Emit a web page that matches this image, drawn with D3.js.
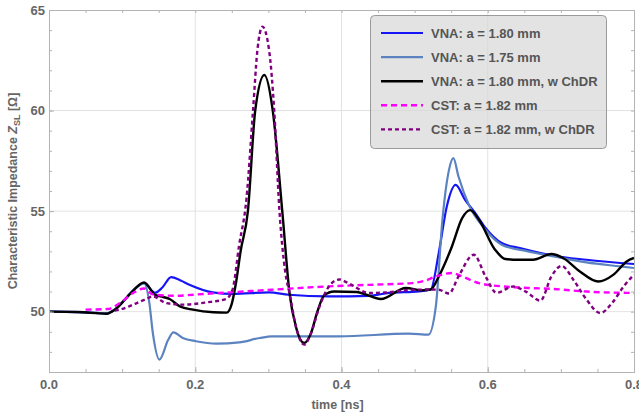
<!DOCTYPE html>
<html>
<head>
<meta charset="utf-8">
<script src="https://cdn.jsdelivr.net/npm/d3@7"></script>
<style>
  html, body { margin: 0; padding: 0; background: #fff; }
  svg { display: block; font-family: "Liberation Sans", Arial, sans-serif; }
</style>
</head>
<body>
<svg id="chart" width="639" height="416"></svg>
<script>
// Time axis samples (ns) and impedance values (Ohm) for each measured / simulated trace
const tVna180 = [0, 0.04, 0.079, 0.09, 0.1, 0.115, 0.13, 0.145, 0.155, 0.167, 0.18, 0.192, 0.224, 0.251, 0.301, 0.328, 0.383, 0.437, 0.465, 0.506, 0.522, 0.533, 0.544, 0.556, 0.569, 0.583, 0.597, 0.619, 0.644, 0.69, 0.735, 0.781, 0.8];
const zVna180 = [50, 49.98, 49.92, 50.1, 50.45, 51.05, 51.42, 50.94, 51.2, 51.72, 51.55, 51.34, 50.96, 50.88, 50.96, 50.84, 50.76, 50.79, 50.93, 51.01, 51.1, 52.92, 55.23, 56.3, 55.56, 54.9, 54.16, 53.41, 53.16, 52.78, 52.58, 52.42, 52.37];

const tVna175 = [0, 0.04, 0.079, 0.09, 0.1, 0.115, 0.13, 0.137, 0.142, 0.151, 0.163, 0.17, 0.183, 0.201, 0.229, 0.26, 0.288, 0.305, 0.397, 0.492, 0.519, 0.529, 0.538, 0.547, 0.553, 0.56, 0.574, 0.597, 0.619, 0.655, 0.69, 0.735, 0.781, 0.8];
const zVna175 = [50, 49.98, 49.92, 50.1, 50.45, 51.05, 51.4, 50.5, 48.94, 47.62, 48.6, 48.97, 48.69, 48.53, 48.41, 48.47, 48.69, 48.77, 48.77, 48.91, 48.86, 50.26, 54.57, 57.05, 57.63, 56.72, 55.32, 54.07, 53.33, 53.0, 52.75, 52.45, 52.25, 52.17];

const tVnaChdr = [0, 0.04, 0.079, 0.09, 0.1, 0.115, 0.13, 0.145, 0.156, 0.165, 0.179, 0.197, 0.225, 0.243, 0.25, 0.256, 0.262, 0.272, 0.282, 0.2945, 0.306, 0.319, 0.329, 0.338, 0.349, 0.358, 0.367, 0.376, 0.39, 0.42, 0.454, 0.488, 0.51, 0.522, 0.533, 0.551, 0.565, 0.576, 0.588, 0.61, 0.624, 0.642, 0.662, 0.687, 0.703, 0.726, 0.751, 0.772, 0.79, 0.8];
const zVnaChdr = [50, 49.98, 49.9, 50.1, 50.45, 51.05, 51.45, 50.84, 50.73, 50.63, 50.26, 50.1, 49.97, 49.95, 50.4, 51.5, 53.0, 55.0, 60.0, 61.77, 60.0, 55.0, 50.9, 49.2, 48.44, 48.9, 50.0, 50.8, 51.0, 50.98, 50.63, 51.18, 51.06, 51.1, 51.75, 53.24, 54.65, 55.05, 54.57, 53.08, 52.62, 52.58, 52.58, 52.87, 52.67, 52.0, 51.5, 51.84, 52.5, 52.67];

const tCst = [0.05, 0.08, 0.097, 0.115, 0.13, 0.142, 0.17, 0.215, 0.247, 0.305, 0.383, 0.45, 0.496, 0.515, 0.529, 0.551, 0.565, 0.588, 0.619, 0.655, 0.69, 0.735, 0.8];
const zCst = [50.1, 50.13, 50.43, 50.93, 51.15, 50.86, 50.79, 50.89, 50.96, 51.09, 51.26, 51.35, 51.42, 51.55, 51.75, 51.92, 51.75, 51.42, 51.26, 51.18, 51.13, 51.0, 50.93];

const tCstChdr = [0.09, 0.097, 0.12, 0.133, 0.142, 0.16, 0.183, 0.215, 0.242, 0.251, 0.26, 0.27, 0.279, 0.285, 0.292, 0.301, 0.308, 0.315, 0.323, 0.329, 0.338, 0.349, 0.358, 0.37, 0.383, 0.397, 0.41, 0.438, 0.46, 0.496, 0.52, 0.533, 0.547, 0.56, 0.581, 0.597, 0.612, 0.635, 0.652, 0.672, 0.687, 0.701, 0.717, 0.735, 0.754, 0.77, 0.786, 0.8];
const zCstChdr = [50.05, 50.1, 50.43, 50.63, 50.76, 50.43, 50.35, 50.46, 50.63, 51.1, 53.3, 55.6, 60.0, 63.0, 64.17, 63.0, 60.0, 55.1, 52.0, 50.9, 49.2, 48.36, 48.9, 50.26, 51.26, 51.6, 51.4, 50.93, 50.95, 51.09, 51.1, 51.09, 50.9, 51.75, 52.83, 51.75, 50.94, 51.25, 51.0, 50.55, 51.75, 52.28, 51.59, 50.6, 49.93, 50.43, 51.26, 51.84];

const seriesNames = ["VNA: a = 1.80 mm", "VNA: a = 1.75 mm", "VNA: a = 1.80 mm, w ChDR", "CST: a = 1.82 mm", "CST: a = 1.82 mm, w ChDR"];
const xTickLabels = ["0.0", "0.2", "0.4", "0.6", "0.8"];
const yTickValues = [50, 55, 60, 65];

const series = [
  { name: seriesNames[0], t: tVna180, z: zVna180, color: "#1515f5", width: 2.2, dash: null },
  { name: seriesNames[1], t: tVna175, z: zVna175, color: "#5b83c0", width: 2.2, dash: null },
  { name: seriesNames[2], t: tVnaChdr, z: zVnaChdr, color: "#000000", width: 2.4, dash: null },
  { name: seriesNames[3], t: tCst, z: zCst, color: "#ff00ff", width: 2.4, dash: "6,4" },
  { name: seriesNames[4], t: tCstChdr, z: zCstChdr, color: "#800080", width: 2.4, dash: "4,3" }
];

const svg = d3.select("#chart");
const plotLeft = 49, plotRight = 634, plotTop = 10, plotBottom = 372;

const x = d3.scaleLinear().domain([0, 0.8]).range([plotLeft, plotRight]);
const y = d3.scaleLinear().domain([47, 65]).range([plotBottom, plotTop]);

// grid
const grid = svg.append("g").attr("stroke", "#e2e2e2").attr("stroke-width", 1);
[0.2, 0.4, 0.6].forEach(v => grid.append("line")
  .attr("x1", x(v)).attr("x2", x(v)).attr("y1", plotTop).attr("y2", plotBottom));
[50, 55, 60].forEach(v => grid.append("line")
  .attr("x1", plotLeft).attr("x2", plotRight).attr("y1", y(v)).attr("y2", y(v)));

// curves
svg.append("clipPath").attr("id", "plotclip").append("rect")
  .attr("x", plotLeft).attr("y", plotTop)
  .attr("width", plotRight - plotLeft).attr("height", plotBottom - plotTop);

const line = d3.line()
  .x(d => x(d[0]))
  .y(d => y(d[1]))
  .curve(d3.curveMonotoneX);

const curves = svg.append("g").attr("clip-path", "url(#plotclip)");
series.forEach(s => {
  curves.append("path")
    .datum(s.t.map((t, i) => [t, s.z[i]]))
    .attr("d", line)
    .attr("fill", "none")
    .attr("stroke", s.color)
    .attr("stroke-width", s.width)
    .attr("stroke-linejoin", "round")
    .attr("stroke-dasharray", s.dash);
});

// frame with ticks on all four sides
const frameColor = "#b4b4b4";
const xMinor = d3.range(0, 0.8001, 0.05);
const yMinor = d3.range(47, 65.001, 1);

const axB = d3.axisBottom(x).tickValues(xMinor).tickSize(-3).tickFormat("");
const axT = d3.axisTop(x).tickValues(xMinor).tickSize(-3).tickFormat("");
const axL = d3.axisLeft(y).tickValues(yMinor).tickSize(-3).tickFormat("");
const axR = d3.axisRight(y).tickValues(yMinor).tickSize(-3).tickFormat("");
const axB2 = d3.axisBottom(x).tickValues([0, 0.2, 0.4, 0.6, 0.8]).tickSize(-5).tickFormat("");
const axL2 = d3.axisLeft(y).tickValues(yTickValues).tickSize(-5).tickFormat("");

[[axB, `translate(0,${plotBottom})`], [axT, `translate(0,${plotTop})`],
 [axL, `translate(${plotLeft},0)`], [axR, `translate(${plotRight},0)`],
 [axB2, `translate(0,${plotBottom})`], [axL2, `translate(${plotLeft},0)`]].forEach(([ax, tr]) => {
  const g = svg.append("g").attr("transform", tr).call(ax);
  g.selectAll("path, line").attr("stroke", frameColor);
});

// tick labels
const labelColor = "#666666";
svg.append("g").selectAll("text").data(xTickLabels).join("text")
  .attr("x", d => x(+d)).attr("y", 389)
  .attr("text-anchor", "middle")
  .attr("font-size", 13).attr("font-weight", "bold").attr("fill", labelColor)
  .text(d => d);

svg.append("g").selectAll("text").data(yTickValues).join("text")
  .attr("x", 45).attr("y", d => y(d) + 4.5)
  .attr("text-anchor", "end")
  .attr("font-size", 13).attr("font-weight", "bold").attr("fill", labelColor)
  .text(d => d);

// axis titles
svg.append("text")
  .attr("x", (plotLeft + plotRight) / 2 - 4).attr("y", 409)
  .attr("text-anchor", "middle")
  .attr("font-size", 12.5).attr("font-weight", "bold").attr("fill", labelColor)
  .text("time [ns]");

const yTitle = svg.append("text")
  .attr("transform", `translate(17,${(plotTop + plotBottom) / 2}) rotate(-90)`)
  .attr("text-anchor", "middle")
  .attr("font-size", 12.5).attr("font-weight", "bold").attr("fill", labelColor);
yTitle.append("tspan").text("Characteristic Impedance ");
yTitle.append("tspan").attr("font-style", "italic").text("Z");
yTitle.append("tspan").attr("font-size", 9).attr("dy", 3).text("SL");
yTitle.append("tspan").attr("dy", -3).text(" [Ω]");

// legend
const legend = svg.append("g");
legend.append("rect")
  .attr("x", 370.5).attr("y", 15.5).attr("width", 236).attr("height", 133)
  .attr("rx", 4).attr("ry", 4)
  .attr("fill", "#d6d6d6").attr("fill-opacity", 0.68)
  .attr("stroke", "#9a9a9a").attr("stroke-width", 1);

series.forEach((s, i) => {
  const ly = 33 + i * 24.1;
  legend.append("line")
    .attr("x1", 381).attr("x2", 423).attr("y1", ly).attr("y2", ly)
    .attr("stroke", s.color).attr("stroke-width", s.width)
    .attr("stroke-dasharray", s.dash);
  legend.append("text")
    .attr("x", 431).attr("y", ly + 4.5)
    .attr("font-size", 13).attr("font-weight", "bold").attr("fill", "#555555")
    .text(s.name);
});
</script>
</body>
</html>
